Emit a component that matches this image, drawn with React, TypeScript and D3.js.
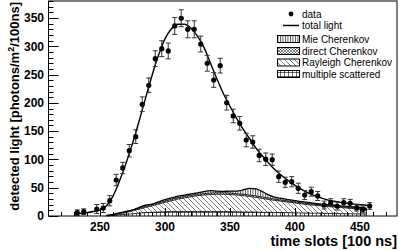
import * as d3 from 'd3';
import React, { useRef, useEffect } from 'react';

// measured points (time slot, detected light, error)
const dataX = [232.5, 237.5, 247.5, 252.5, 257.5, 262.5, 267.5, 272.5, 277.5, 282.5, 287.5, 292.5, 297.5, 302.5, 307.5, 312.5, 317.5, 322.5, 327.5, 332.5, 337.5, 342.5, 347.5, 352.5, 357.5, 362.5, 367.5, 372.5, 377.5, 382.5, 387.5, 392.5, 397.5, 402.5, 407.5, 412.5, 417.5, 422.5, 427.5, 432.5, 437.5, 442.5, 447.5, 452.5, 457.5];
const dataY = [5.8, 7.6, 12.4, 14.1, 27, 63.6, 84.9, 115.4, 140.2, 197.5, 231, 278, 295.7, 291.7, 335.9, 349.5, 330, 330, 304, 270, 240.4, 265.7, 200.3, 176.8, 163.9, 134.3, 130.8, 107, 100.4, 99.5, 69.5, 59.6, 60.6, 49, 37, 43, 35.4, 19.4, 23.5, 17.7, 23.5, 22.4, 14.7, 11.8, 17.7];
const dataErr = [5, 5, 8, 8, 9, 10, 10, 11, 12, 13, 13, 14, 14, 14, 15, 15, 15, 15, 14, 14, 13, 13, 13, 12, 12, 12, 11, 11, 11, 10, 10, 9, 9, 9, 8, 8, 8, 7, 7, 7, 7, 7, 6, 6, 6];

// total light fit
const fitX = [232, 240, 245, 250, 255, 260, 265, 270, 275, 280, 285, 290, 295, 300, 305, 310, 315, 320, 325, 330, 335, 340, 345, 350, 355, 360, 365, 370, 375, 380, 385, 390, 395, 400, 405, 410, 415, 420, 425, 430, 435, 440, 445, 450, 455, 458];
const fitY = [4, 6, 8, 10.5, 18, 35, 62, 93, 128, 167, 208, 248, 284, 313, 331, 339, 339, 332, 318, 298, 270, 242, 216, 194, 173, 154, 137, 120, 106, 93, 81, 71, 62, 54, 47, 41, 36, 32, 28.5, 26, 24, 22.5, 21, 20, 19, 18.5];

// components (stacked from bottom)
const compX = [255, 260, 265, 270, 275, 280, 285, 290, 295, 300, 305, 310, 315, 320, 325, 330, 335, 340, 345, 350, 355, 360, 365, 370, 375, 380, 385, 390, 395, 400, 405, 410, 415, 420, 425, 430, 435, 440, 445, 450, 455];
const multiple = [0, 1, 2, 3, 4, 5, 6, 6.5, 7, 7.5, 8, 8, 8, 8, 8, 8, 8, 8, 8, 7.5, 7.5, 7, 7, 7, 6.5, 6.5, 6, 6, 6, 5.5, 5.5, 5, 5, 5, 4.5, 4.5, 4, 4, 4, 3.5, 3.5];
const rayleigh = [0.5, 1, 2, 3, 5, 7, 9, 11.5, 14, 16.5, 19, 22, 24, 26, 28, 29, 30, 30.5, 30.5, 30.5, 29.5, 29, 27.5, 26, 24.5, 22.5, 21.5, 20, 18.5, 17.5, 16, 15, 14, 13, 12.5, 11.5, 11, 10, 9, 8.5, 8];
const direct = [0.3, 0.5, 1, 1.5, 1.5, 2, 2, 2, 2, 2.5, 2.5, 2.5, 2.5, 2.5, 2.5, 2.5, 2.5, 2.5, 2.5, 2.5, 2.5, 2.5, 2.5, 2.5, 2.5, 2.5, 2, 2, 2, 2, 2, 2, 2, 1.5, 1.5, 1.5, 1.5, 1.5, 1.5, 1.5, 1.5];
const mie = [0.2, 0.5, 0.5, 0.5, 0.5, 1, 2, 1, 2, 2.5, 2.5, 2.5, 2.5, 2.5, 2.5, 3.5, 4.5, 3, 2.5, 3.5, 4.5, 7.5, 12, 12.5, 9.5, 5.5, 3.5, 3, 2.5, 2, 2, 2, 1.5, 1.5, 1.5, 1.5, 1.5, 1.5, 1.5, 1.5, 1];

const xTicks = [250, 300, 350, 400, 450];
const yTicks = [0, 50, 100, 150, 200, 250, 300, 350];
const legendLabels = ['data', 'total light', 'Mie Cherenkov', 'direct Cherenkov', 'Rayleigh Cherenkov', 'multiple scattered'];

const W = 399;
const H = 251;
const FONT = 'Liberation Sans, Arial, Helvetica, sans-serif';

function Chart() {
  const ref = useRef<SVGSVGElement>(null);

  useEffect(() => {
    const svg = d3.select(ref.current);
    svg.selectAll('*').remove();

    const x = d3.scaleLinear().domain([210, 478.5]).range([48, 397]);
    const y = d3.scaleLinear().domain([0, 380]).range([216, 1]);

    const defs = svg.append('defs');
    const pat = (id, w, h, d, sw) => {
      const p = defs.append('pattern').attr('id', id).attr('patternUnits', 'userSpaceOnUse')
        .attr('width', w).attr('height', h);
      p.append('path').attr('d', d).attr('stroke', '#000').attr('stroke-width', sw).attr('fill', 'none');
    };
    pat('mie', 2.5, 4, 'M0.5,0 V4', 0.7);
    pat('direct', 3, 3, 'M0,0 L3,3 M3,0 L0,3', 0.5);
    pat('rayleigh', 5, 5, 'M-1,-1 L6,6 M-1,4 L1,6 M4,-1 L6,1', 0.5);
    pat('multi', 4, 4, 'M0.5,0 V4 M0,0.5 H4', 0.6);

    // stacked components
    const rows = compX.map((cx, i) => ({ x: cx, multi: multiple[i], rayleigh: rayleigh[i], direct: direct[i], mie: mie[i] }));
    const keys = ['multi', 'rayleigh', 'direct', 'mie'];
    const series = d3.stack().keys(keys)(rows);
    const area = d3.area()
      .x((d) => x(d.data.x))
      .y0((d) => y(d[0]))
      .y1((d) => y(d[1]))
      .curve(d3.curveMonotoneX);
    const top = d3.line()
      .x((d) => x(d.data.x))
      .y((d) => y(d[1]))
      .curve(d3.curveMonotoneX);

    series.forEach((s, i) => {
      svg.append('path').attr('d', area(s)).attr('fill', `url(#${s.key})`);
      svg.append('path').attr('d', top(s)).attr('fill', 'none')
        .attr('stroke', '#000').attr('stroke-width', i === keys.length - 1 ? 1.3 : 0.8);
    });
    // right edge of component block
    const last = compX.length - 1;
    svg.append('line')
      .attr('x1', x(compX[last])).attr('x2', x(compX[last]))
      .attr('y1', y(0)).attr('y2', y(series[3][last][1]))
      .attr('stroke', '#000').attr('stroke-width', 0.8);

    // total light
    const fitLine = d3.line()
      .x((d, i) => x(fitX[i]))
      .y((d) => y(d))
      .curve(d3.curveMonotoneX);
    svg.append('path').attr('d', fitLine(fitY)).attr('fill', 'none')
      .attr('stroke', '#000').attr('stroke-width', 1.4);

    // data with error bars
    const pts = svg.append('g');
    dataX.forEach((dx, i) => {
      const px = x(dx);
      const lo = y(dataY[i] - dataErr[i]);
      const hi = y(dataY[i] + dataErr[i]);
      pts.append('line').attr('x1', px).attr('x2', px).attr('y1', lo).attr('y2', hi)
        .attr('stroke', '#333').attr('stroke-width', 1);
      [lo, hi].forEach((yy) => {
        pts.append('line').attr('x1', px - 2.5).attr('x2', px + 2.5).attr('y1', yy).attr('y2', yy)
          .attr('stroke', '#333').attr('stroke-width', 1);
      });
      pts.append('circle').attr('cx', px).attr('cy', y(dataY[i])).attr('r', 2.6).attr('fill', '#000');
    });

    // frame
    svg.append('rect').attr('x', 48.5).attr('y', 1).attr('width', 348.5).attr('height', 215)
      .attr('fill', 'none').attr('stroke', '#000').attr('stroke-width', 1);

    // ticks
    const ax = svg.append('g').attr('stroke', '#000').attr('stroke-width', 1);
    d3.range(0, 381, 10).forEach((v) => {
      const major = v % 50 === 0;
      ax.append('line').attr('x1', 48.5).attr('x2', 48.5 + (major ? 10 : 5))
        .attr('y1', Math.round(y(v)) + 0.5).attr('y2', Math.round(y(v)) + 0.5);
    });
    d3.range(220, 479, 10).forEach((v) => {
      const major = v % 50 === 0;
      ax.append('line').attr('x1', Math.round(x(v)) + 0.5).attr('x2', Math.round(x(v)) + 0.5)
        .attr('y1', 216).attr('y2', 216 - (major ? 8 : 4));
    });

    svg.append('g').selectAll('text').data(yTicks).join('text')
      .attr('x', 44).attr('y', (d) => y(d)).attr('dy', '0.36em')
      .attr('text-anchor', 'end').attr('font-family', FONT).attr('font-weight', 'bold')
      .attr('font-size', 12).text((d) => d);
    svg.append('g').selectAll('text').data(xTicks).join('text')
      .attr('x', (d) => x(d)).attr('y', 231)
      .attr('text-anchor', 'middle').attr('font-family', FONT).attr('font-weight', 'bold')
      .attr('font-size', 12).text((d) => d);

    svg.append('text').attr('x', 397).attr('y', 246).attr('text-anchor', 'end')
      .attr('font-family', FONT).attr('font-weight', 'bold').attr('font-size', 14.5)
      .text('time slots [100 ns]');

    const yt = svg.append('text').attr('transform', 'translate(19,2) rotate(-90)')
      .attr('text-anchor', 'end').attr('font-family', FONT).attr('font-weight', 'bold')
      .attr('font-size', 13);
    yt.append('tspan').text('detected light [photons/m');
    yt.append('tspan').attr('dy', -5).attr('font-size', 9).text('2');
    yt.append('tspan').attr('dy', 5).text('/100ns]');

    // legend
    const rowY = [14, 25.5, 39, 51, 62.5, 74];
    const lg = svg.append('g').attr('font-family', FONT).attr('font-size', 10);
    legendLabels.forEach((lab, i) => {
      lg.append('text').attr('x', 302).attr('y', rowY[i]).attr('dy', '0.35em').text(lab);
    });
    lg.append('circle').attr('cx', 291).attr('cy', rowY[0]).attr('r', 2.4).attr('fill', '#000');
    lg.append('line').attr('x1', 283).attr('x2', 299).attr('y1', rowY[1]).attr('y2', rowY[1])
      .attr('stroke', '#000').attr('stroke-width', 1.5);
    ['mie', 'direct', 'rayleigh', 'multi'].forEach((k, i) => {
      lg.append('rect').attr('x', 277.5).attr('y', rowY[i + 2] - 3.5).attr('width', 22).attr('height', 7)
        .attr('fill', `url(#${k})`).attr('stroke', '#000').attr('stroke-width', 1);
    });
  }, []);

  return (
    <svg ref={ref} width={W} height={H} style={{ position: 'absolute', left: 0, top: 0, background: '#fff' }} />
  );
}

export default function App() {
  return <Chart />;
}
